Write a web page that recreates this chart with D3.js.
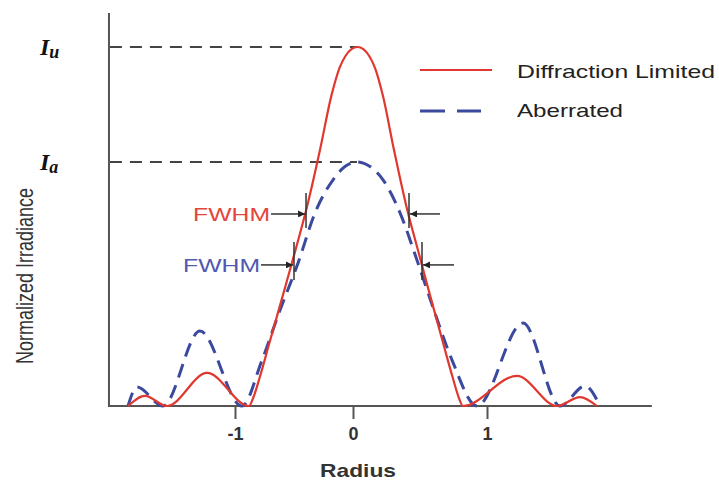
<!DOCTYPE html>
<meta charset="utf-8">
<style>
    body { margin: 0; background: #fff; }
    text { font-family: "Liberation Sans", Arial, sans-serif; }
    .axis-line { stroke: #555; stroke-width: 2; }
    .ref { stroke: #444; stroke-width: 2; stroke-dasharray: 12,8; }
    .red { fill: none; stroke: #e0382f; stroke-width: 2.2; }
    .blue { fill: none; stroke: #3b4a9e; stroke-width: 3; stroke-dasharray: 14,8; }
    .mark { stroke: #333; stroke-width: 1.5; }
</style>

<svg width="719" height="480"></svg>

<script src="https://d3js.org/d3.v7.min.js"></script>

<script>
// radius values and normalized irradiance
var redX  = [-1.907, -1.763, -1.576, -1.237,
             -0.881, -0.843, -0.792, -0.708, -0.598, -0.487, -0.386, -0.280, -0.182, -0.114, -0.064, -0.013,
             0.034,
             0.077, 0.121, 0.164, 0.222, 0.306, 0.396, 0.484, 0.578, 0.672, 0.745, 0.788, 0.821,
             1.224, 1.522, 1.694, 1.821];
var redY  = [0, 0.028, 0, 0.092,
             0, 0.025, 0.078, 0.176, 0.304, 0.435, 0.560, 0.713, 0.866, 0.942, 0.975, 0.994,
             1.0,
             0.994, 0.975, 0.942, 0.866, 0.713, 0.560, 0.435, 0.304, 0.176, 0.078, 0.025, 0,
             0.084, 0, 0.025, 0];

var blueX = [-1.907, -1.831, -1.610, -1.297, -0.941, -0.771, -0.619, -0.466, -0.322, -0.169, -0.068,
             0.030, 0.127, 0.224, 0.351, 0.485, 0.604, 0.739, 0.925, 1.269, 1.545, 1.731, 1.843];
var blueY = [0, 0.053, 0, 0.209, 0, 0.128, 0.267, 0.398, 0.538, 0.630, 0.667,
             0.68, 0.667, 0.630, 0.538, 0.398, 0.267, 0.128, 0, 0.231, 0, 0.056, 0];

var tickValues = [-1, 0, 1];
var seriesNames = ["Diffraction Limited", "Aberrated"];
var peakLevels = [1.0, 0.68];          // I_u, I_a
var peakX = [0.034, 0.030];

// FWHM markers: [left x, right x, arrow level, bar top, bar bottom]
var fwhmRed  = [-0.398, 0.418, 0.535, 0.593, 0.496];
var fwhmBlue = [-0.500, 0.515, 0.393, 0.457, 0.351];

var svg = d3.select("svg");

var x = d3.scaleLinear().domain([-1, 0, 1]).range([235, 353, 487]);
var y = d3.scaleLinear().domain([0, 1]).range([406, 47]);

svg.append("defs").append("marker")
    .attr("id", "arrow")
    .attr("viewBox", "0 0 10 10")
    .attr("refX", 10).attr("refY", 5)
    .attr("markerWidth", 9).attr("markerHeight", 7)
    .attr("markerUnits", "userSpaceOnUse")
    .attr("orient", "auto")
    .append("path")
    .attr("d", "M0,0L10,5L0,10z")
    .attr("fill", "#222");

// reference dashed levels
svg.selectAll(".ref")
    .data(peakLevels)
    .enter()
    .append("line")
    .attr("class", "ref")
    .attr("x1", x(-2.06))
    .attr("x2", function(d, i) { return x(peakX[i]); })
    .attr("y1", function(d) { return y(d); })
    .attr("y2", function(d) { return y(d); });

// axes
svg.append("line").attr("class", "axis-line")
    .attr("x1", x(-2.07)).attr("x2", x(2.23))
    .attr("y1", y(0)).attr("y2", y(0));
svg.append("line").attr("class", "axis-line")
    .attr("x1", x(-2.068)).attr("x2", x(-2.068))
    .attr("y1", y(1.095)).attr("y2", y(0) + 1);

var xAxis = svg.append("g")
    .attr("transform", "translate(0," + y(0) + ")")
    .call(d3.axisBottom(x).tickValues(tickValues).tickSize(13).tickPadding(8)
        .tickFormat(function(d) { return String(d); }));
xAxis.select(".domain").remove();
xAxis.selectAll(".tick line").attr("stroke", "#555").attr("stroke-width", 2);
xAxis.selectAll(".tick text")
    .attr("fill", "#333")
    .style("font-size", "18px")
    .style("font-weight", "bold")
    .style("font-family", "'Liberation Sans', Arial, sans-serif");

// curves
var line = d3.line()
    .x(function(d) { return x(d[0]); })
    .y(function(d) { return y(d[1]); })
    .curve(d3.curveMonotoneX);

svg.append("path")
    .attr("class", "blue")
    .datum(d3.zip(blueX, blueY))
    .attr("d", line);

svg.append("path")
    .attr("class", "red")
    .datum(d3.zip(redX, redY))
    .attr("d", line);

// FWHM markers
function fwhm(f, label, color, textEnd, rightStart) {
    [f[0], f[1]].forEach(function(v) {
        svg.append("line").attr("class", "mark")
            .attr("x1", x(v)).attr("x2", x(v))
            .attr("y1", y(f[3])).attr("y2", y(f[4]));
    });
    svg.append("line").attr("class", "mark")
        .attr("x1", x(textEnd) + 1).attr("x2", x(f[0]) - 1)
        .attr("y1", y(f[2])).attr("y2", y(f[2]))
        .attr("marker-end", "url(#arrow)");
    svg.append("line").attr("class", "mark")
        .attr("x1", x(rightStart)).attr("x2", x(f[1]) + 1)
        .attr("y1", y(f[2])).attr("y2", y(f[2]))
        .attr("marker-end", "url(#arrow)");
    svg.append("text")
        .attr("x", x(textEnd))
        .attr("y", y(f[2]) + 7)
        .attr("text-anchor", "end")
        .attr("textLength", 77)
        .attr("lengthAdjust", "spacingAndGlyphs")
        .attr("fill", color)
        .style("font-size", "19px")
        .text(label);
}
fwhm(fwhmRed, "FWHM", "#e5443a", -0.703, 0.649);
fwhm(fwhmBlue, "FWHM", "#5058b0", -0.788, 0.754);

// I_u / I_a labels
var peakNames = [["I", "u"], ["I", "a"]];
peakNames.forEach(function(p, i) {
    var t = svg.append("text")
        .attr("x", 40)
        .attr("y", y(peakLevels[i]) + 8)
        .style("font-family", "'Liberation Serif', 'Times New Roman', serif")
        .style("font-style", "italic")
        .style("font-weight", "bold")
        .style("font-size", "24px")
        .attr("fill", "#111");
    t.append("tspan").text(p[0]);
    t.append("tspan").attr("dy", 3).style("font-size", "18px").text(p[1]);
});

// legend
var legend = svg.append("g");
legend.append("line")
    .attr("x1", 420).attr("x2", 492).attr("y1", 70).attr("y2", 70)
    .attr("stroke", "#e0382f").attr("stroke-width", 2.2);
legend.append("line")
    .attr("x1", 420).attr("x2", 481).attr("y1", 111).attr("y2", 111)
    .attr("stroke", "#3b4a9e").attr("stroke-width", 3)
    .attr("stroke-dasharray", "25,12");
legend.selectAll("text")
    .data(seriesNames)
    .enter()
    .append("text")
    .attr("x", 517)
    .attr("y", function(d, i) { return i ? 117 : 78; })
    .attr("textLength", function(d, i) { return i ? 106 : 198; })
    .attr("lengthAdjust", "spacingAndGlyphs")
    .attr("fill", "#222")
    .style("font-size", "19px")
    .text(function(d) { return d; });

// axis titles
svg.append("text")
    .attr("x", 358).attr("y", 477)
    .attr("text-anchor", "middle")
    .attr("textLength", 76)
    .attr("lengthAdjust", "spacingAndGlyphs")
    .attr("fill", "#333")
    .style("font-size", "19px")
    .style("font-weight", "bold")
    .text("Radius");

svg.append("text")
    .attr("transform", "translate(33,276) rotate(-90) scale(1,1.3)")
    .attr("text-anchor", "middle")
    .attr("fill", "#333")
    .style("font-size", "18px")
    .text("Normalized Irradiance");

</script>
